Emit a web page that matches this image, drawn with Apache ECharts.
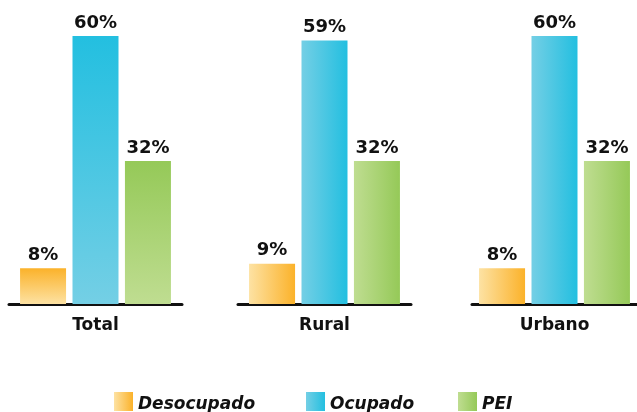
<!DOCTYPE html>
<html>
<head>
<meta charset="utf-8">
<script src="https://cdn.jsdelivr.net/npm/echarts@6/dist/echarts.min.js"></script>
<style>
  html, body { margin: 0; padding: 0; background: #fff; }
  #chart { width: 637px; height: 412px; }
</style>
</head>
<body>
<div id="chart"></div>
<script>
const categories = ['Total', 'Rural', 'Urbano']
const seriesNames = ['Desocupado', 'Ocupado', 'PEI']
const desocupado = [8, 9, 8]
const ocupado = [60, 59, 60]
const pei = [32, 32, 32]

const values = [desocupado, ocupado, pei]
// dark / light ends of each gradient
const colors = [
  ['#fbb22a', '#fde2a3'],
  ['#23bfe0', '#74cfe5'],
  ['#95c958', '#bfdd91']
]
const font = 'DejaVu Sans'

function vGrad(c) {
  return new echarts.graphic.LinearGradient(0, 0, 0, 1, [
    { offset: 0, color: c[0] }, { offset: 1, color: c[1] }
  ])
}
function hGrad(c) {
  return new echarts.graphic.LinearGradient(0, 0, 1, 0, [
    { offset: 0, color: c[1] }, { offset: 1, color: c[0] }
  ])
}

const gridLefts = [9, 238, 472]
const grids = gridLefts.map(l => ({ left: l, width: 173, top: 36, bottom: 108 }))

const xAxes = categories.map((c, i) => ({
  type: 'category',
  gridIndex: i,
  data: [c],
  axisTick: { show: false },
  axisLine: { lineStyle: { color: '#111', width: 3 } },
  axisLabel: { color: '#111', fontFamily: font, fontWeight: 'bold', fontSize: 17, margin: 13 }
}))

const yAxes = categories.map((c, i) => ({
  type: 'value',
  gridIndex: i,
  min: 0,
  max: 60,
  show: false,
  splitLine: { show: false }
}))

const series = []
categories.forEach((c, i) => {
  seriesNames.forEach((name, k) => {
    series.push({
      name: name,
      type: 'bar',
      xAxisIndex: i,
      yAxisIndex: i,
      barWidth: 46,
      barGap: '14%',
      data: [values[k][i]],
      itemStyle: { color: i === 0 ? vGrad(colors[k]) : hGrad(colors[k]) },
      label: {
        show: true,
        position: 'top',
        distance: 4,
        formatter: '{c}%',
        color: '#111',
        fontFamily: font,
        fontWeight: 'bold',
        fontSize: 18
      }
    })
  })
})

const legendLefts = [114, 306, 458]
const legends = seriesNames.map((name, k) => ({
  left: legendLefts[k],
  top: 392,
  padding: 0,
  itemWidth: 19,
  itemHeight: 19,
  icon: 'rect',
  selectedMode: false,
  formatter: '{t|{name}}',
  textStyle: {
    rich: {
      t: {
        color: '#111', fontFamily: font, fontWeight: 'bold', fontStyle: 'italic', fontSize: 17,
        padding: [7, 0, 0, 0]
      }
    }
  },
  data: [{ name: name, itemStyle: { color: hGrad(colors[k]) } }]
}))

const chart = echarts.init(document.getElementById('chart'))
chart.setOption({
  animation: false,
  legend: legends,
  grid: grids,
  xAxis: xAxes,
  yAxis: yAxes,
  series: series
})
</script>
</body>
</html>
